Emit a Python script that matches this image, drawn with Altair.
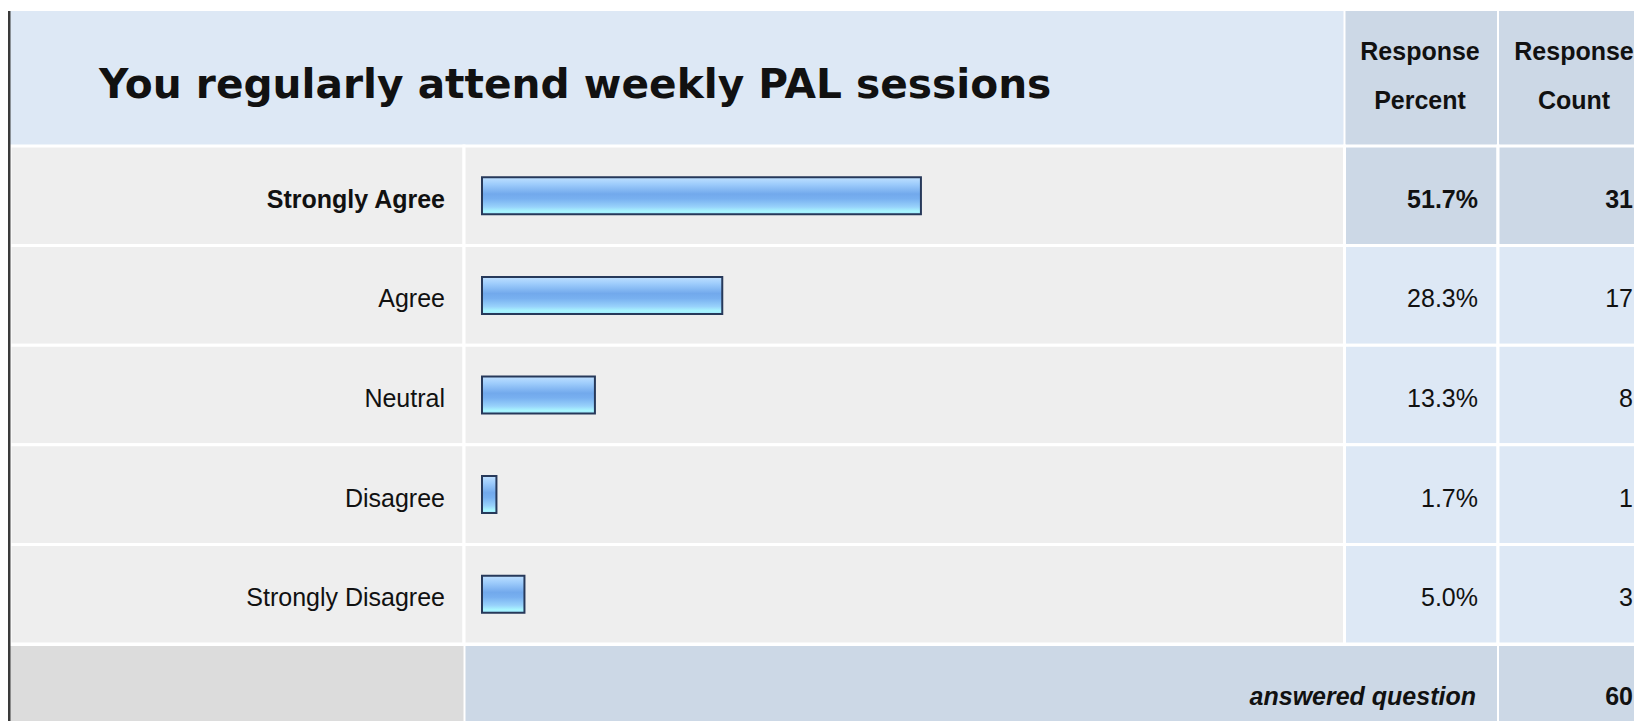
import altair as alt
import pandas as pd

# ---- data ----
categories = ["Strongly Agree", "Agree", "Neutral", "Disagree", "Strongly Disagree"]
percents = [51.7, 28.3, 13.3, 1.7, 5.0]
counts = [31, 17, 8, 1, 3]
percent_labels = ["51.7%", "28.3%", "13.3%", "1.7%", "5.0%"]
title_text = "You regularly attend weekly PAL sessions"
header_percent = ["Response", "Percent"]
header_count = ["Response", "Count"]
footer_label = "answered question"
answered_total = 60
highlighted = "Strongly Agree"

df = pd.DataFrame({"cat": categories, "pct": percents, "count": counts,
                   "pct_label": percent_labels})
df["count_label"] = df["count"].astype(str)
one = pd.DataFrame({"k": [0]})

FONT = "Liberation Sans, Arial, sans-serif"
FS = 25
W, H = 1626, 713
HDR_LIGHT = "#dde8f5"
HDR_DARK = "#ccd8e6"
ROW_BG = "#eeeeee"
FOOT_GRAY = "#dcdcdc"
TXT = "#111111"

yscale = alt.Scale(domain=categories, range=[138, 636], paddingInner=0, paddingOuter=0)
yenc = alt.Y("cat:N", sort=categories, scale=yscale, axis=None)


def box(x1, x2, y1, y2, fill):
    return alt.Chart(one).mark_rect(fill=fill).encode(
        x=alt.value(x1), x2=alt.value(x2), y=alt.value(y1), y2=alt.value(y2))


def note(text, x, y, align, size, weight="normal", style="normal", font=FONT):
    return alt.Chart(one).mark_text(
        align=align, baseline="alphabetic", fontSize=size, fontWeight=weight,
        fontStyle=style, font=font, color=TXT).encode(
        x=alt.value(x), y=alt.value(y), text=alt.value(text))


def row_cells(x1, x2, fill):
    return alt.Chart(df).mark_rect(stroke="white", strokeWidth=3).encode(
        y=yenc, x=alt.value(x1), x2=alt.value(x2), fill=fill)


hl = alt.datum.cat == highlighted

layers = [
    # header band
    box(2, 1335.5, 3, 138, HDR_LIGHT),
    box(1337.5, 1489, 3, 138, HDR_DARK),
    box(1491, W, 3, 138, HDR_DARK),
    # body rows
    row_cells(2, 456, alt.value(ROW_BG)),
    row_cells(456, 1336.5, alt.value(ROW_BG)),
    row_cells(1336.5, 1490, alt.condition(hl, alt.value(HDR_DARK), alt.value(HDR_LIGHT))),
    row_cells(1490, W + 5, alt.condition(hl, alt.value(HDR_DARK), alt.value(HDR_LIGHT))),
    # footer
    box(2, 455.5, 638, H, FOOT_GRAY),
    box(457.5, 1489, 638, H, HDR_DARK),
    box(1491, W, 638, H, HDR_DARK),
    # left frame line
    box(0, 2.5, 3, H, "#3a3a3a"),
]

gradient = alt.Gradient(
    gradient="linear", x1=0, y1=0, x2=0, y2=1,
    stops=[
        alt.GradientStop(color="#bfe0ff", offset=0),
        alt.GradientStop(color="#9fcdfc", offset=0.18),
        alt.GradientStop(color="#72a9ec", offset=0.45),
        alt.GradientStop(color="#78b0f0", offset=0.58),
        alt.GradientStop(color="#98d2fb", offset=0.8),
        alt.GradientStop(color="#a9f7ff", offset=0.92),
        alt.GradientStop(color="#9fe6ff", offset=1),
    ])

bars = alt.Chart(df).mark_bar(fill=gradient, stroke="#27395a", strokeWidth=2,
                              size=37, cornerRadius=0).encode(
    y=yenc,
    x=alt.X("pct:Q", scale=alt.Scale(domain=[0, 100], range=[474, 1323]), axis=None),
)
layers.append(bars)

# row labels and values
for is_hl, weight in [(True, "bold"), (False, "normal")]:
    flt = hl if is_hl else ~hl
    for field, xpos in [("cat:N", 437), ("pct_label:N", 1470), ("count_label:N", 1625)]:
        layers.append(alt.Chart(df).transform_filter(flt).mark_text(
            align="right", baseline="alphabetic", dy=12, fontSize=FS, fontWeight=weight,
            font=FONT, color=TXT).encode(y=yenc, x=alt.value(xpos), text=field))

# header / footer texts
layers += [
    note(title_text, 91, 90, "left", 40.7, "bold", font="DejaVu Sans, Liberation Sans, sans-serif"),
    note(header_percent[0], 1412, 52, "center", FS, "bold"),
    note(header_percent[1], 1412, 101, "center", FS, "bold"),
    note(header_count[0], 1566, 52, "center", FS, "bold"),
    note(header_count[1], 1566, 101, "center", FS, "bold"),
    note(footer_label, 1468, 697, "right", FS, "bold", "italic"),
    note(str(answered_total), 1625, 697, "right", FS, "bold"),
]

chart = alt.layer(*layers).properties(
    width=W, height=H, padding=0, autosize="none", background="white"
).configure_view(stroke=None)

chart.save("out.html", embed_options={"renderer": "svg", "actions": False})
